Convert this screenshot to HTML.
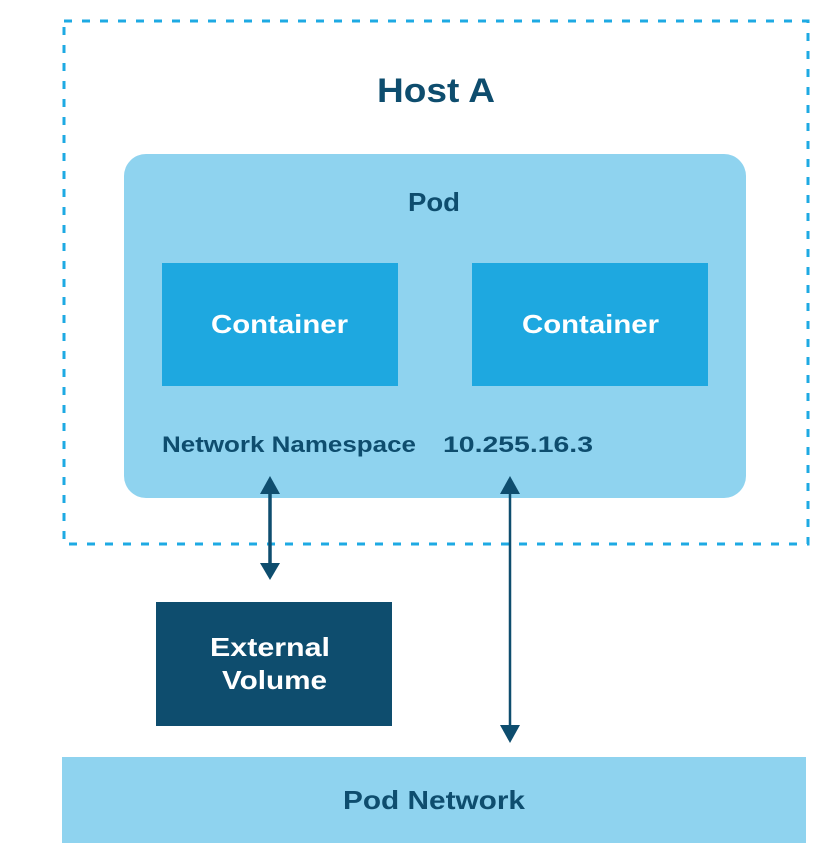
<!DOCTYPE html>
<html><head><meta charset="utf-8"><style>
html,body{margin:0;padding:0;background:#fff;}
body{width:825px;height:859px;overflow:hidden;}
text{font-family:"Liberation Sans",sans-serif;font-weight:bold;}
</style></head><body>
<svg width="825" height="859" xmlns="http://www.w3.org/2000/svg">
<rect x="64" y="21" width="744" height="523" fill="none" stroke="#1eaae3" stroke-width="3" stroke-dasharray="8,10"/>
<text x="377" y="102" font-size="34" fill="#0e4d6e" textLength="118" lengthAdjust="spacingAndGlyphs">Host A</text>
<rect x="124" y="154" width="622" height="344" rx="22" fill="#8fd3ef"/>
<text x="408" y="211" font-size="26" fill="#0e4d6e" textLength="52" lengthAdjust="spacingAndGlyphs">Pod</text>
<rect x="162" y="263" width="236" height="123" fill="#1ea8e0"/>
<rect x="472" y="263" width="236" height="123" fill="#1ea8e0"/>
<text x="211" y="333" font-size="26" fill="#fff" textLength="137" lengthAdjust="spacingAndGlyphs">Container</text>
<text x="522" y="333" font-size="26" fill="#fff" textLength="137" lengthAdjust="spacingAndGlyphs">Container</text>
<text x="162" y="452" font-size="22" fill="#0e4d6e" textLength="254" lengthAdjust="spacingAndGlyphs">Network Namespace</text>
<text x="443" y="452" font-size="22" fill="#0e4d6e" textLength="150" lengthAdjust="spacingAndGlyphs">10.255.16.3</text>
<line x1="270" y1="490" x2="270" y2="566" stroke="#0e4d6e" stroke-width="3.5"/>
<polygon points="260,494 280,494 270,476" fill="#0e4d6e"/>
<polygon points="260,563 280,563 270,580" fill="#0e4d6e"/>
<line x1="510" y1="490" x2="510" y2="728" stroke="#0e4d6e" stroke-width="2.5"/>
<polygon points="500,494 520,494 510,476" fill="#0e4d6e"/>
<polygon points="500,725 520,725 510,743" fill="#0e4d6e"/>
<rect x="156" y="602" width="236" height="124" fill="#0e4d6e"/>
<text x="210" y="656" font-size="26" fill="#fff" textLength="120" lengthAdjust="spacingAndGlyphs">External</text>
<text x="222" y="689" font-size="26" fill="#fff" textLength="105" lengthAdjust="spacingAndGlyphs">Volume</text>
<rect x="62" y="757" width="744" height="86" fill="#8fd3ef"/>
<text x="343" y="809" font-size="26" fill="#0e4d6e" textLength="182" lengthAdjust="spacingAndGlyphs">Pod Network</text>
</svg>
</body></html>
